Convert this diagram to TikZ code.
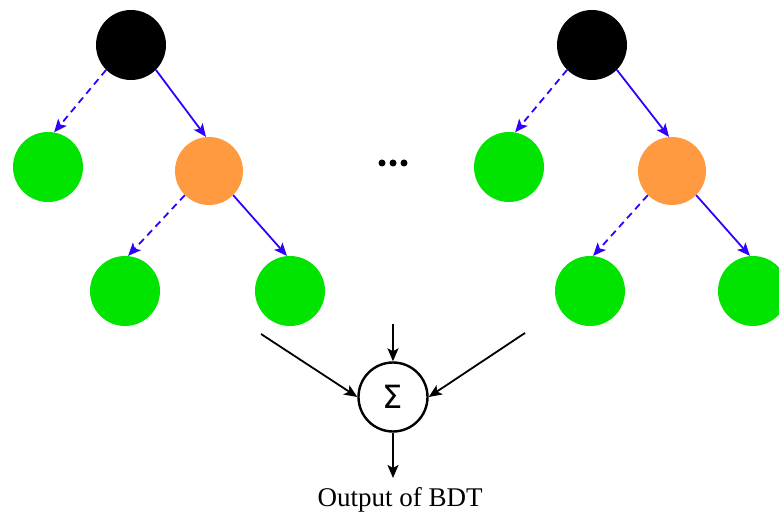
\documentclass[tikz,border=0pt]{standalone}
\usepackage{fontspec}
\setmainfont{Liberation Serif}
\newfontfamily\sigmafont{DejaVu Sans}
\usetikzlibrary{arrows.meta}
\definecolor{leafgreen}{RGB}{0,228,0}
\definecolor{splitorange}{RGB}{255,154,64}
\definecolor{edgeblue}{RGB}{51,0,255}
\tikzset{
  rootnode/.style={circle, fill=black, minimum size=70pt, inner sep=0pt},
  leafnode/.style={circle, fill=leafgreen, minimum size=70pt, inner sep=0pt},
  splitnode/.style={circle, fill=splitorange, minimum size=68pt, inner sep=0pt},
  yesedge/.style={edgeblue, line width=1.8pt, -{Stealth[length=13pt,width=11pt,inset=3pt]}},
  noedge/.style={yesedge, dash pattern=on 7pt off 5pt},
  sumedge/.style={black, line width=1.8pt, -{Stealth[length=13pt,width=11pt,inset=3pt]}},
  sumnode/.style={circle, draw=black, line width=2.4pt, fill=white, minimum size=69pt, inner sep=0pt, font=\sigmafont\fontsize{32}{32}\selectfont},
  dotnode/.style={circle, fill=black, minimum size=7pt, inner sep=0pt}
}
\begin{document}
\begin{tikzpicture}[x=1pt, y=-1pt]
  \useasboundingbox (0,0) rectangle (779,518);

  % first tree
  \node[rootnode]  (r1)  at (131,45)  {};
  \node[leafnode]  (a1)  at (48,167)  {};
  \node[splitnode] (s1)  at (209,171) {};
  \node[leafnode]  (b1)  at (125,291) {};
  \node[leafnode]  (c1)  at (290,291) {};
  \draw[noedge]  (r1.-135) -- (a1.80);
  \draw[yesedge] (r1.-45)  -- (s1.95);
  \draw[noedge]  (s1.-135) -- (b1.85);
  \draw[yesedge] (s1.-45)  -- (c1.95);

  % ellipsis between the trees
  \node[dotnode] (d1) at (382,163) {};
  \node[dotnode] (d2) at (393,163) {};
  \node[dotnode] (d3) at (404,163) {};

  % last tree
  \node[rootnode]  (r2)  at (592,45)  {};
  \node[leafnode]  (a2)  at (509,167) {};
  \node[splitnode] (s2)  at (672,171) {};
  \node[leafnode]  (b2)  at (590,291) {};
  \node[leafnode]  (c2)  at (753,291) {};
  \draw[noedge]  (r2.-135) -- (a2.80);
  \draw[yesedge] (r2.-45)  -- (s2.95);
  \draw[noedge]  (s2.-135) -- (b2.85);
  \draw[yesedge] (s2.-45)  -- (c2.95);

  % summation of the tree outputs
  \node[sumnode] (sum) at (393,397) {Σ};
  \coordinate (inL) at (261,334);
  \coordinate (inM) at (393,324);
  \coordinate (inR) at (525,333);
  \coordinate (outTip) at (393,478);
  \draw[sumedge] (inL) -- (sum.west);
  \draw[sumedge] (inM) -- (sum.north);
  \draw[sumedge] (inR) -- (sum.east);
  \draw[sumedge] (sum.south) -- (outTip);
  \node[font=\fontsize{27}{30}\selectfont] (out) at (400,500) {Output of BDT};
\end{tikzpicture}
\end{document}
